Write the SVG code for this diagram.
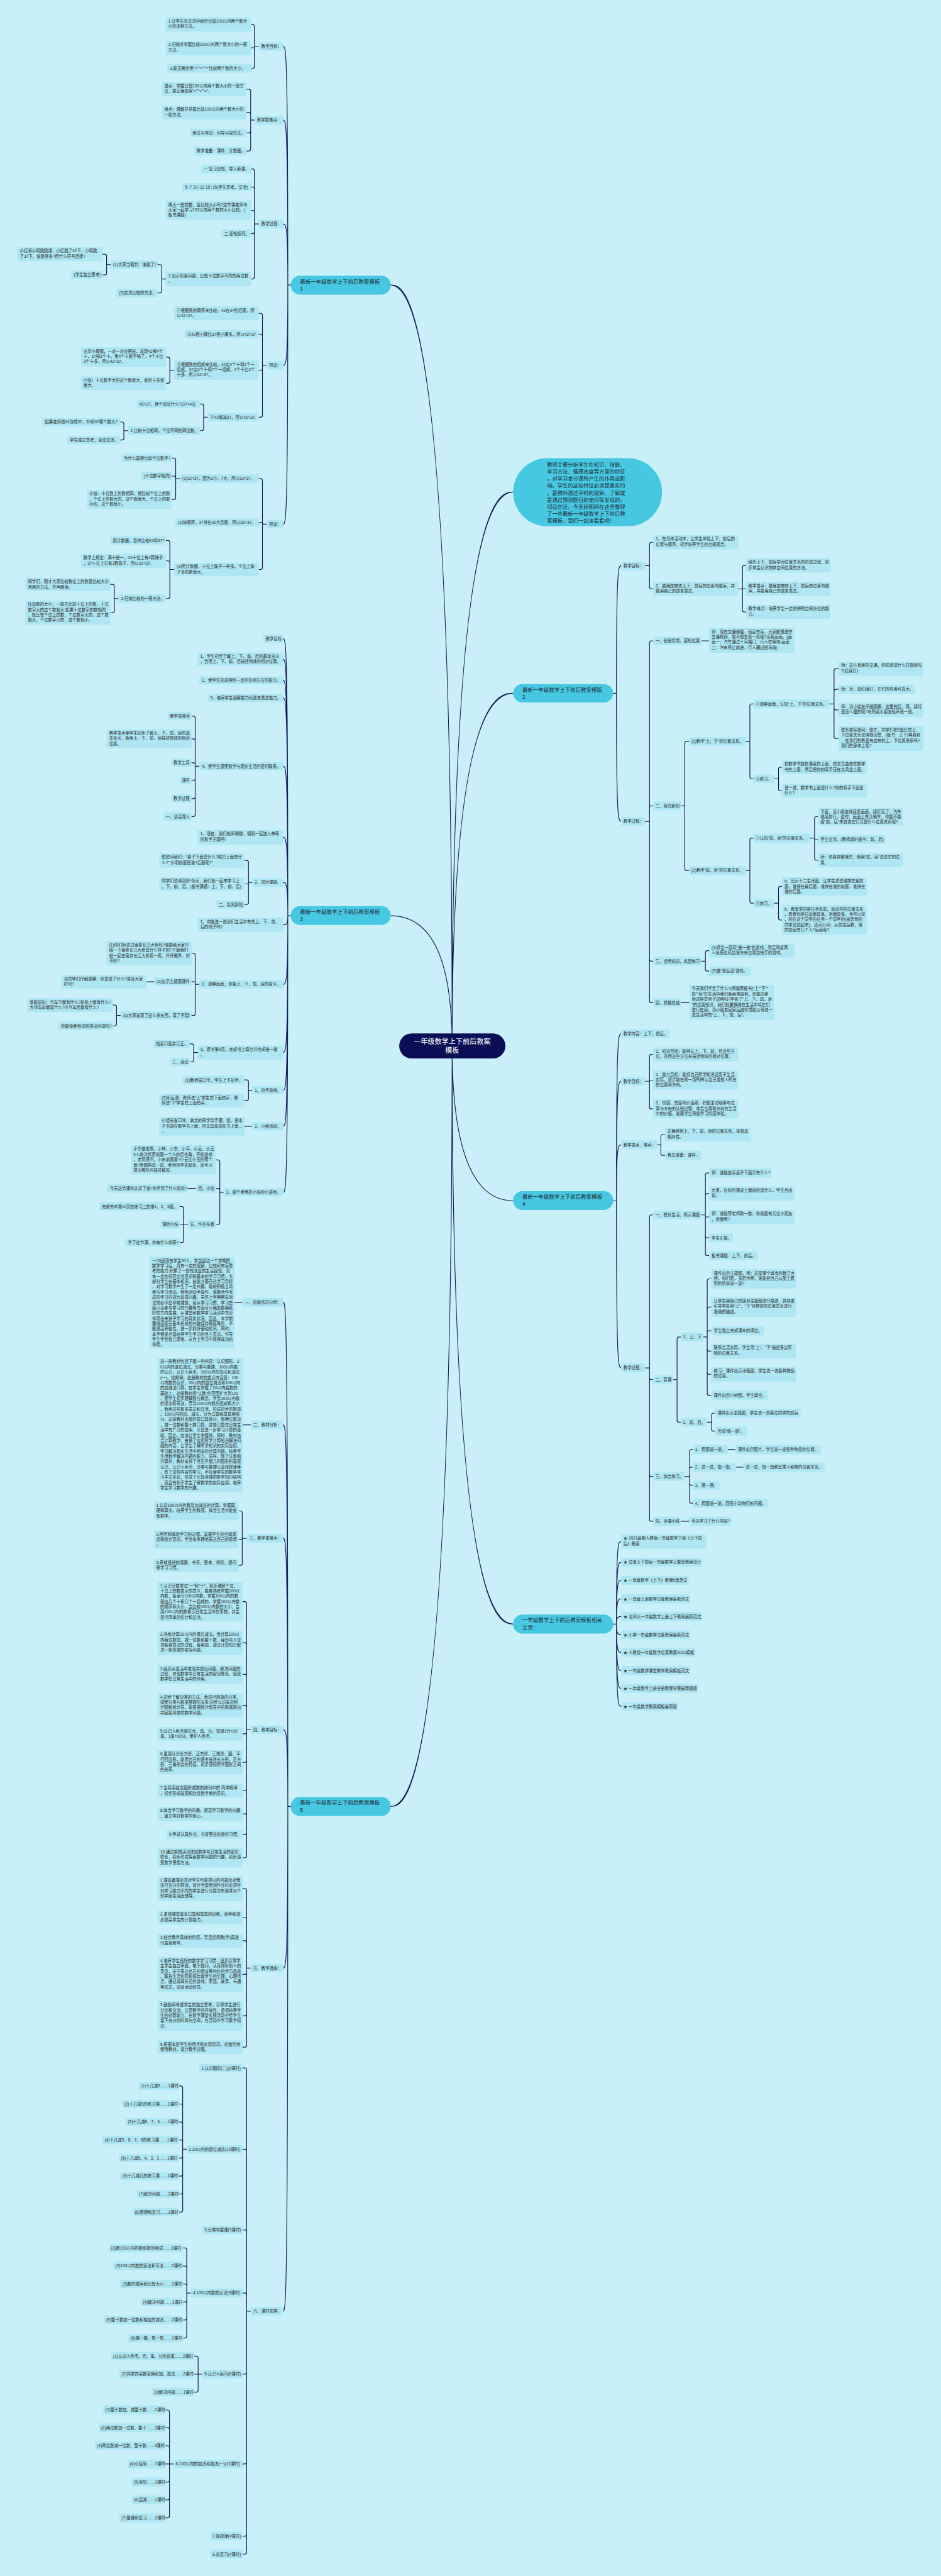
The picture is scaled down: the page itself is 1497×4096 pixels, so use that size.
<svg xmlns="http://www.w3.org/2000/svg" width="1497" height="4096" viewBox="0 0 1497 4096">
<style>
.bg{fill:#c9f0f8}
.n{fill:#aee6f3}
.t{font-family:"Liberation Sans","Noto Sans CJK SC",sans-serif;font-size:11px;fill:#2a2a2a}
.b{fill:#47c8e2}
.bt{font-family:"Liberation Sans","Noto Sans CJK SC",sans-serif;font-size:14.5px;fill:#1d2833}
.it{font-family:"Liberation Sans","Noto Sans CJK SC",sans-serif;font-size:14.2px;fill:#1d2833}
.cn{fill:#0a0e55}
.ct{font-family:"Liberation Sans","Noto Sans CJK SC",sans-serif;font-size:19px;fill:#ffffff;text-anchor:middle}
.ln{fill:none;stroke:#131a55;stroke-width:2;stroke-linecap:round}
</style>
<rect class="bg" x="0" y="0" width="1497" height="4096"/>
<g transform="scale(0.58477)">
<g id="connectors">
<path class="ln" d="M1230 2844C1230 775 1100 775 1063 775M1230 2844C1230 2490 1100 2490 1063 2490M1230 2844C1230 4912 1100 4912 1063 4912M1230 2844C1230 1338 1359 1338 1396 1338M1230 2844C1230 1885 1359 1885 1396 1885M1230 2844C1230 3265 1359 3265 1396 3265M1230 2844C1230 4416 1359 4416 1396 4416"/>
<path class="ln" d="M791 775H783C783 126.5 778 126.5 770 126.5M783 775C783 326.5 778 326.5 770 326.5M783 775C783 609 778 609 770 609M783 775C783 993.5 778 993.5 770 993.5M783 775C783 1425 778 1425 770 1425"/>
<path class="ln" d="M791 2490H783C783 1736.5 778 1736.5 770 1736.5M783 2490C783 1792.5 778 1792.5 770 1792.5M783 2490C783 1850 778 1850 770 1850M783 2490C783 1898 778 1898 770 1898M783 2490C783 2083.5 778 2083.5 770 2083.5M783 2490C783 2276.5 778 2276.5 770 2276.5M783 2490C783 2399.5 778 2399.5 770 2399.5M783 2490C783 2515 778 2515 770 2515M783 2490C783 2676.5 778 2676.5 770 2676.5M783 2490C783 2862 778 2862 770 2862M783 2490C783 2964.5 778 2964.5 770 2964.5M783 2490C783 3062.5 778 3062.5 770 3062.5M783 2490C783 3242 778 3242 770 3242"/>
<path class="ln" d="M791 4912H783C783 3541 778 3541 770 3541M783 4912C783 3874.5 778 3874.5 770 3874.5M783 4912C783 4183 778 4183 770 4183M783 4912C783 4703.5 778 4703.5 770 4703.5M783 4912C783 5351.5 778 5351.5 770 5351.5M783 4912C783 6284.5 778 6284.5 770 6284.5"/>
<path class="ln" d="M1668 1885H1677C1677 1538 1682 1538 1690 1538M1677 1885C1677 2233.5 1682 2233.5 1690 2233.5"/>
<path class="ln" d="M1668 3265H1677C1677 2811 1682 2811 1690 2811M1677 3265C1677 2940 1682 2940 1690 2940M1677 3265C1677 3113 1682 3113 1690 3113M1677 3265C1677 3719.5 1682 3719.5 1690 3719.5"/>
<path class="ln" d="M1668 4416H1677C1677 4191.5 1682 4191.5 1690 4191.5M1677 4416C1677 4248 1682 4248 1690 4248M1677 4416C1677 4297.5 1682 4297.5 1690 4297.5M1677 4416C1677 4347.5 1682 4347.5 1690 4347.5M1677 4416C1677 4395.5 1682 4395.5 1690 4395.5M1677 4416C1677 4445 1682 4445 1690 4445M1677 4416C1677 4493 1682 4493 1690 4493M1677 4416C1677 4542.5 1682 4542.5 1690 4542.5M1677 4416C1677 4591 1682 4591 1690 4591M1677 4416C1677 4640 1682 4640 1690 4640"/>
<path class="ln" d="M704 126.5H692M692 126.5V71.5Q692 66.5 687 66.5H683M692 130H683M692 126.5V181Q692 186 687 186H683"/>
<path class="ln" d="M692 326.5H682M682 326.5V247.5Q682 242.5 677 242.5H671M682 326.5V311Q682 306 677 306H671M682 326.5V356.5Q682 361.5 677 361.5H671M682 326.5V405.5Q682 410.5 677 410.5H671"/>
<path class="ln" d="M704 609H692M692 609V464.5Q692 459.5 687 459.5H683M692 609V513.5Q692 508.5 687 508.5H683M692 609V577Q692 572 687 572H683M692 609V630.5Q692 635.5 687 635.5H683M692 609V753.5Q692 758.5 687 758.5H683"/>
<path class="ln" d="M451 758.5H440M440 758.5V724.5Q440 719.5 435 719.5H429M440 758.5V791.5Q440 796.5 435 796.5H429"/>
<path class="ln" d="M301 719.5H290M290 719.5V696Q290 691 285 691H279M290 719.5V742.5Q290 747.5 285 747.5H279"/>
<path class="ln" d="M725 993.5H714M714 993.5V857Q714 852 709 852H704M714 993.5V913.5Q714 908.5 709 908.5H704M714 993.5V1001.5Q714 1006.5 709 1006.5H704M714 993.5V1129.5Q714 1134.5 709 1134.5H704"/>
<path class="ln" d="M474 1006.5H462M462 1006.5V976Q462 971 457 971H452M462 1006.5V1037Q462 1042 457 1042H452"/>
<path class="ln" d="M565 1134.5H554M554 1134.5V1103.5Q554 1098.5 549 1098.5H544M554 1134.5V1166Q554 1171 549 1171H544"/>
<path class="ln" d="M348 1171H337M337 1171V1152.5Q337 1147.5 332 1147.5H327M337 1171V1191.5Q337 1196.5 332 1196.5H327"/>
<path class="ln" d="M725 1425H714M714 1425V1306.5Q714 1301.5 709 1301.5H704M714 1421H704M714 1425V1543.5Q714 1548.5 709 1548.5H704"/>
<path class="ln" d="M489 1301.5H478M478 1301.5V1250.5Q478 1245.5 473 1245.5H467M478 1301.5V1299.5Q478 1294.5 473 1294.5H467M478 1301.5V1353Q478 1358 473 1358H467"/>
<path class="ln" d="M474 1548.5H462M462 1548.5V1474.5Q462 1469.5 457 1469.5H452M462 1548.5V1530Q462 1525 457 1525H452M462 1548.5V1622.5Q462 1627.5 457 1627.5H452"/>
<path class="ln" d="M322 1627.5H311M311 1627.5V1594Q311 1589 306 1589H300M311 1627.5V1661Q311 1666 306 1666H300"/>
<path class="ln" d="M542 2083.5H531M531 2083.5V1952Q531 1947 526 1947H521M531 2083.5V2014Q531 2009 526 2009H521M531 2083.5V2079Q531 2074 526 2074H521M531 2083.5V2117Q531 2122 526 2122H521M531 2083.5V2166.5Q531 2171.5 526 2171.5H521M531 2083.5V2215.5Q531 2220.5 526 2220.5H521"/>
<path class="ln" d="M686 2399.5H676M676 2399.5V2344.5Q676 2339.5 671 2339.5H665M676 2403.5H665M676 2399.5V2454.5Q676 2459.5 671 2459.5H665"/>
<path class="ln" d="M542 2676.5H531M531 2676.5V2597Q531 2592 526 2592H521M531 2669.5H521M531 2676.5V2756Q531 2761 526 2761H521M420 2669.5H399"/>
<path class="ln" d="M328 2761H317M317 2761V2738Q317 2733 312 2733H307M317 2761V2784.5Q317 2789.5 312 2789.5H307"/>
<path class="ln" d="M538 2862H527M527 2862V2843.5Q527 2838.5 522 2838.5H516M527 2862V2882.5Q527 2887.5 522 2887.5H516"/>
<path class="ln" d="M686 2964.5H676M676 2964.5V2941.5Q676 2936.5 671 2936.5H665M676 2964.5V2987.5Q676 2992.5 671 2992.5H665M686 3062.5H665"/>
<path class="ln" d="M608 3242H598M598 3242V3159Q598 3154 593 3154H588M598 3242V3236.5Q598 3231.5 593 3231.5H588M598 3242V3324.5Q598 3329.5 593 3329.5H588M533 3231.5H511"/>
<path class="ln" d="M511 3329.5H499M499 3329.5V3285.5Q499 3280.5 494 3280.5H489M499 3329.5H489M499 3329.5V3374Q499 3379 494 3379H489"/>
<path class="ln" d="M659 3541H638M682 3874.5H661"/>
<path class="ln" d="M671 4183H659M659 4183V4113.5Q659 4108.5 654 4108.5H649M659 4186H649M659 4183V4251.5Q659 4256.5 654 4256.5H649"/>
<path class="ln" d="M682 4703.5H671M671 4703.5V4360Q671 4355 666 4355H660M671 4703.5V4472Q671 4467 666 4467H660M671 4703.5V4557.5Q671 4552.5 666 4552.5H660M671 4703.5V4642Q671 4637 666 4637H660M671 4703.5V4709.5Q671 4714.5 666 4714.5H660M671 4703.5V4787Q671 4792 666 4792H660M671 4703.5V4864.5Q671 4869.5 666 4869.5H660M671 4703.5V4927.5Q671 4932.5 666 4932.5H660M671 4703.5V4983Q671 4988 666 4988H660M671 4703.5V5046.5Q671 5051.5 666 5051.5H660"/>
<path class="ln" d="M682 5351.5H671M671 5351.5V5140.5Q671 5135.5 666 5135.5H660M671 5351.5V5219Q671 5214 666 5214H660M671 5351.5V5282Q671 5277 666 5277H660M671 5351.5V5363.5Q671 5368.5 666 5368.5H660M671 5351.5V5476.5Q671 5481.5 666 5481.5H660M671 5351.5V5561.5Q671 5566.5 666 5566.5H660"/>
<path class="ln" d="M682 6284.5H671M671 6284.5V5628Q671 5623 666 5623H660M671 6284.5V5849Q671 5844 666 5844H660M671 6284.5V6068.5Q671 6063.5 666 6063.5H660M671 6284.5V6240Q671 6235 666 6235H660M671 6284.5V6450.5Q671 6455.5 666 6455.5H660M671 6284.5V6695Q671 6700 666 6700H660M671 6284.5V6891Q671 6896 666 6896H660M671 6284.5V6940Q671 6945 666 6945H660"/>
<path class="ln" d="M508 5844H497M497 5844V5677Q497 5672 492 5672H487M497 5844V5726Q497 5721 492 5721H487M497 5844V5775Q497 5770 492 5770H487M497 5844V5824Q497 5819 492 5819H487M497 5844V5863Q497 5868 492 5868H487M497 5844V5912Q497 5917 492 5917H487M497 5844V5961Q497 5966 492 5966H487M497 5844V6010Q497 6015 492 6015H487"/>
<path class="ln" d="M519 6235H508M508 6235V6117.5Q508 6112.5 503 6112.5H497M508 6235V6166.5Q508 6161.5 503 6161.5H497M508 6235V6215.5Q508 6210.5 503 6210.5H497M508 6235V6254.5Q508 6259.5 503 6259.5H497M508 6235V6303.5Q508 6308.5 503 6308.5H497M508 6235V6352.5Q508 6357.5 503 6357.5H497"/>
<path class="ln" d="M550 6455.5H539M539 6455.5V6411.5Q539 6406.5 534 6406.5H528M539 6455.5H528M539 6455.5V6499.5Q539 6504.5 534 6504.5H528"/>
<path class="ln" d="M472 6700H461M461 6700V6558Q461 6553 456 6553H450M461 6700V6606.5Q461 6601.5 456 6601.5H450M461 6700V6655.5Q461 6650.5 456 6650.5H450M461 6700H450M461 6700V6744Q461 6749 456 6749H450M461 6700V6792.5Q461 6797.5 456 6797.5H450M461 6700V6841.5Q461 6846.5 456 6846.5H450"/>
<path class="ln" d="M1755 1538H1767M1767 1538V1479.5Q1767 1474.5 1772 1474.5H1777M1767 1538V1596Q1767 1601 1772 1601H1777"/>
<path class="ln" d="M2008 1601H2029M2020 1601V1542.5Q2020 1537.5 2025 1537.5H2029M2020 1601V1659Q2020 1664 2025 1664H2029"/>
<path class="ln" d="M1755 2233.5H1767M1767 2233.5V1747.5Q1767 1742.5 1772 1742.5H1777M1767 2233.5V2196Q1767 2191 1772 2191H1777M1767 2233.5V2608.5Q1767 2613.5 1772 2613.5H1777M1767 2233.5V2721.5Q1767 2726.5 1772 2726.5H1777M1908 1742.5H1929"/>
<path class="ln" d="M1852 2191H1863M1863 2191V2021Q1863 2016 1868 2016H1875M1863 2191V2362Q1863 2367 1868 2367H1875"/>
<path class="ln" d="M2029 2016H2040M2040 2016V1919Q2040 1914 2045 1914H2050M2040 2016V2112.5Q2040 2117.5 2045 2117.5H2050"/>
<path class="ln" d="M2255 1914H2269M2269 1914V1823.5Q2269 1818.5 2274 1818.5H2281M2269 1914V1879.5Q2269 1874.5 2274 1874.5H2281M2269 1914V1925.5Q2269 1930.5 2274 1930.5H2281M2269 1914V2003Q2269 2008 2274 2008H2281"/>
<path class="ln" d="M2106 2117.5H2118M2118 2117.5V2091Q2118 2086 2123 2086H2127M2118 2117.5V2145Q2118 2150 2123 2150H2127"/>
<path class="ln" d="M2029 2367H2040M2040 2367V2284Q2040 2279 2045 2279H2050M2040 2367V2451Q2040 2456 2045 2456H2050"/>
<path class="ln" d="M2203 2279H2216M2216 2279V2225.5Q2216 2220.5 2221 2220.5H2225M2216 2283H2225M2216 2279V2334Q2216 2339 2221 2339H2225"/>
<path class="ln" d="M2106 2456H2118M2118 2456V2415Q2118 2410 2123 2410H2127M2118 2456V2496.5Q2118 2501.5 2123 2501.5H2127"/>
<path class="ln" d="M1908 2613.5H1919M1919 2613.5V2590Q1919 2585 1924 2585H1929M1919 2613.5V2635.5Q1919 2640.5 1924 2640.5H1929M1852 2726.5H1875"/>
<path class="ln" d="M1755 2940H1767M1767 2940V2872Q1767 2867 1772 2867H1777M1767 2937H1777M1767 2940V3010Q1767 3015 1772 3015H1777"/>
<path class="ln" d="M1789 3113H1798M1798 3113V3090Q1798 3085 1803 3085H1809M1798 3113V3136.5Q1798 3141.5 1803 3141.5H1809"/>
<path class="ln" d="M1755 3719.5H1767M1767 3719.5V3308.5Q1767 3303.5 1772 3303.5H1777M1767 3719.5V3746.5Q1767 3751.5 1772 3751.5H1777M1767 3719.5V4010Q1767 4015 1772 4015H1777M1767 3719.5V4131.5Q1767 4136.5 1772 4136.5H1777"/>
<path class="ln" d="M1908 3303.5H1919M1919 3303.5V3194.5Q1919 3189.5 1924 3189.5H1929M1919 3303.5V3250.5Q1919 3245.5 1924 3245.5H1929M1919 3309H1929M1919 3303.5V3361Q1919 3366 1924 3366H1929M1919 3303.5V3409Q1919 3414 1924 3414H1929"/>
<path class="ln" d="M1831 3751.5H1842M1842 3751.5V3640.5Q1842 3635.5 1847 3635.5H1852M1842 3751.5V3862Q1842 3867 1847 3867H1852"/>
<path class="ln" d="M1913 3635.5H1924M1924 3635.5V3482.5Q1924 3477.5 1929 3477.5H1935M1924 3635.5V3559Q1924 3554 1929 3554H1935M1924 3635.5V3623.5Q1924 3618.5 1929 3618.5H1935M1924 3635.5V3669Q1924 3674 1929 3674H1935M1924 3635.5V3732Q1924 3737 1929 3737H1935M1924 3635.5V3789Q1924 3794 1929 3794H1935"/>
<path class="ln" d="M1924 3867H1936M1936 3867V3847.5Q1936 3842.5 1941 3842.5H1945M1936 3867V3886.5Q1936 3891.5 1941 3891.5H1945"/>
<path class="ln" d="M1863 4015H1876M1876 4015V3946.5Q1876 3941.5 1881 3941.5H1885M1876 4015V3994.5Q1876 3989.5 1881 3989.5H1885M1876 4015V4033.5Q1876 4038.5 1881 4038.5H1885M1876 4015V4082.5Q1876 4087.5 1881 4087.5H1885M1980 3941.5H2000M2003 3989.5H2022M1852 4136.5H1875"/>
</g>

<g id="center"><rect class="cn" x="1086" y="2810" width="289" height="68" rx="34"/><text class="ct" x="1230" y="2839">一年级数学上下前后教案<tspan x="1230" dy="24">模板</tspan></text></g>

<g id="intro"><rect class="b" x="1396" y="1246" width="405" height="185" rx="92"/><text class="it" x="1488" y="1269">教师主要分析学生在知识、技能、<tspan x="1488" dy="19">学习方法、情感态度等方面的特征</tspan><tspan x="1488" dy="19">，对学习本节课所产生的作用或影</tspan><tspan x="1488" dy="19">响。学生的这些特征必须是真实的</tspan><tspan x="1488" dy="19">，是教师通过平时的观察、了解或</tspan><tspan x="1488" dy="19">是通过预测题目的使用等发现的，</tspan><tspan x="1488" dy="19">切忌空泛。今天树图网在这里整理</tspan><tspan x="1488" dy="19">了一些最新一年级数学上下前后教</tspan><tspan x="1488" dy="19">案模板，我们一起来看看吧!</tspan></text></g>

<g id="t1"><rect class="b" x="791" y="750" width="272" height="51" rx="25"/><text class="bt" x="816" y="771">最新一年级数学上下前后教案模板<tspan x="816" dy="19">1</tspan></text></g>
<g id="t3"><rect class="b" x="791" y="2464" width="272" height="51" rx="25"/><text class="bt" x="816" y="2485">最新一年级数学上下前后教案模板<tspan x="816" dy="19">3</tspan></text></g>
<g id="t5"><rect class="b" x="791" y="4886" width="272" height="52" rx="25"/><text class="bt" x="816" y="4907">最新一年级数学上下前后教案模板<tspan x="816" dy="19">5</tspan></text></g>
<g id="t2"><rect class="b" x="1396" y="1860" width="272" height="50" rx="25"/><text class="bt" x="1421" y="1881">最新一年级数学上下前后教案模版<tspan x="1421" dy="19">2</tspan></text></g>
<g id="t4"><rect class="b" x="1396" y="3239" width="272" height="51" rx="25"/><text class="bt" x="1421" y="3260">最新一年级数学上下前后教案模板<tspan x="1421" dy="19">4</tspan></text></g>
<g id="t6"><rect class="b" x="1396" y="4390" width="272" height="52" rx="25"/><text class="bt" x="1421" y="4411">一年级数学上下前后教案模板相关<tspan x="1421" dy="19">文章：</tspan></text></g>

<g id="a1"><rect class="n" x="704" y="115" width="66" height="23" rx="4"/><text class="t" x="711" y="130.5">教学目标：</text></g>
<g id="a1_1"><rect class="n" x="451" y="47" width="232" height="39" rx="4"/><text class="t" x="458" y="61.5">1.让学生在交流中经历比较100以内两个数大<tspan x="458" dy="14.3">小的多种方法。</tspan></text></g>
<g id="a1_2"><rect class="n" x="451" y="111" width="232" height="39" rx="4"/><text class="t" x="458" y="125.5">2.归纳并掌握比较100以内两个数大小的一般<tspan x="458" dy="14.3">方法。</tspan></text></g>
<g id="a1_3"><rect class="n" x="455" y="174" width="228" height="24" rx="4"/><text class="t" x="462" y="190">3.能正确运用"&gt;""&lt;""="比较两个数的大小。</text></g>
<g id="a2"><rect class="n" x="692" y="315" width="78" height="23" rx="4"/><text class="t" x="699" y="330.5">教学重难点：</text></g>
<g id="a2_1"><rect class="n" x="440" y="223" width="231" height="39" rx="4"/><text class="t" x="447" y="237.5">重点：掌握比较100以内两个数大小的一般方<tspan x="447" dy="14.3">法，能正确应用"&gt;""&lt;""="。</tspan></text></g>
<g id="a2_2"><rect class="n" x="440" y="287" width="231" height="38" rx="4"/><text class="t" x="447" y="301.5">难点：理解并掌握比较100以内两个数大小的<tspan x="447" dy="14.3">一般方法。</tspan></text></g>
<g id="a2_3"><rect class="n" x="517" y="350" width="154" height="23" rx="4"/><text class="t" x="524" y="365.5">教法与学法：引导与探究法。</text></g>
<g id="a2_4"><rect class="n" x="528" y="399" width="143" height="23" rx="4"/><text class="t" x="535" y="414.5">教学准备：课件，计数器。</text></g>
<g id="a3"><rect class="n" x="704" y="597" width="66" height="24" rx="4"/><text class="t" x="711" y="613">教学过程：</text></g>
<g id="a3_1"><rect class="n" x="547" y="448" width="136" height="23" rx="4"/><text class="t" x="554" y="463.5">一.复习旧知，导入新课。</text></g>
<g id="a3_2"><rect class="n" x="496" y="497" width="187" height="23" rx="4"/><text class="t" x="503" y="512.5">5○7 20○12 15○15(学生思考，交流)</text></g>
<g id="a3_3"><rect class="n" x="451" y="546" width="232" height="52" rx="4"/><text class="t" x="458" y="560.5">再大一些的数，会比较大小吗?这节课老师与<tspan x="458" dy="14.3">大家一起学习100以内两个数的大小比较。(</tspan><tspan x="458" dy="14.3">板书课题)</tspan></text></g>
<g id="a3_4"><rect class="n" x="603" y="624" width="80" height="23" rx="4"/><text class="t" x="610" y="639.5">二.新知探究。</text></g>
<g id="a3_5"><rect class="n" x="451" y="739" width="232" height="39" rx="4"/><text class="t" x="458" y="753.5">1.出示情景问题，比较十位数字不同的两位数<tspan x="458" dy="14.3">。</tspan></text></g>
<g id="a3_5_1"><rect class="n" x="301" y="708" width="128" height="23" rx="4"/><text class="t" x="308" y="723.5">(1)大家当裁判：谁赢了?</text></g>
<g id="a3_5_2"><rect class="n" x="317" y="785" width="112" height="23" rx="4"/><text class="t" x="324" y="800.5">(2)交流比较的方法。</text></g>
<g id="a3_5_1_1"><rect class="n" x="47" y="672" width="232" height="38" rx="4"/><text class="t" x="54" y="686.5">小红和小明跳跳绳，小红跳了42下，小明跳<tspan x="54" dy="14.3">了37下。谁跳得多?用什么符号连接?</tspan></text></g>
<g id="a3_5_1_2"><rect class="n" x="194" y="736" width="85" height="23" rx="4"/><text class="t" x="201" y="751.5">(学生独立思考)</text></g>
<g id="a4"><rect class="n" x="725" y="982" width="45" height="23" rx="4"/><text class="t" x="732" y="997.5">预设：</text></g>
<g id="a4_1"><rect class="n" x="474" y="833" width="230" height="38" rx="4"/><text class="t" x="481" y="847.5">①根据数的顺序来比较。42在37的后面，所<tspan x="481" dy="14.3">以42&gt;37。</tspan></text></g>
<g id="a4_2"><rect class="n" x="502" y="897" width="202" height="23" rx="4"/><text class="t" x="509" y="912.5">②42根小棒比37根小棒多，所以42&gt;37</text></g>
<g id="a4_3"><rect class="n" x="474" y="980" width="230" height="53" rx="4"/><text class="t" x="481" y="994.5">③根据数的组成来比较。42由4个十和2个一<tspan x="481" dy="14.3">组成，37由3个十和7个一组成。4个十比3个</tspan><tspan x="481" dy="14.3">十多，所以42&gt;37。</tspan></text></g>
<g id="a4_3_1"><rect class="n" x="220" y="944" width="232" height="54" rx="4"/><text class="t" x="227" y="958.5">出示小棒图，一对一对应摆放，发现42够4个<tspan x="227" dy="14.3">十，37够3个十，第4个十就不够了，4个十比</tspan><tspan x="227" dy="14.3">3个十多，所以42&gt;37。</tspan></text></g>
<g id="a4_3_2"><rect class="n" x="220" y="1023" width="232" height="38" rx="4"/><text class="t" x="227" y="1037.5">小结：十位数字大的这个数就大，谁的十多谁<tspan x="227" dy="14.3">就大。</tspan></text></g>
<g id="a4_4"><rect class="n" x="565" y="1123" width="139" height="23" rx="4"/><text class="t" x="572" y="1138.5">④42够减37，所以42&gt;37.</text></g>
<g id="a4_4_1"><rect class="n" x="372" y="1087" width="172" height="23" rx="4"/><text class="t" x="379" y="1102.5">42&gt;37，换个说法什么?(37&lt;42).</text></g>
<g id="a4_4_2"><rect class="n" x="348" y="1159" width="196" height="24" rx="4"/><text class="t" x="355" y="1175">2.比较十位相同，个位不同的两位数。</text></g>
<g id="a4_4_2_1"><rect class="n" x="115" y="1136" width="212" height="23" rx="4"/><text class="t" x="122" y="1151.5">如果老师把42改成32，32和37哪个数大?</text></g>
<g id="a4_4_2_2"><rect class="n" x="183" y="1185" width="144" height="23" rx="4"/><text class="t" x="190" y="1200.5">学生独立思考，全班交流。</text></g>
<g id="a5"><rect class="n" x="725" y="1414" width="45" height="22" rx="4"/><text class="t" x="732" y="1429">预设：</text></g>
<g id="a5_1"><rect class="n" x="489" y="1290" width="215" height="23" rx="4"/><text class="t" x="496" y="1305.5">(1)32&lt;37，因为2小，7大。所以32&lt;37。</text></g>
<g id="a5_1_1"><rect class="n" x="330" y="1234" width="137" height="23" rx="4"/><text class="t" x="337" y="1249.5">为什么直接比较个位数字?</text></g>
<g id="a5_1_2"><rect class="n" x="384" y="1283" width="83" height="23" rx="4"/><text class="t" x="391" y="1298.5">(十位数字相同)</text></g>
<g id="a5_1_3"><rect class="n" x="236" y="1332" width="231" height="52" rx="4"/><text class="t" x="243" y="1346.5">小结：十位数上的数相同，就比较个位上的数<tspan x="243" dy="14.3">，个位上的数大的，这个数就大，个位上的数</tspan><tspan x="243" dy="14.3">小的，这个数就小。</tspan></text></g>
<g id="a5_2"><rect class="n" x="477" y="1410" width="227" height="22" rx="4"/><text class="t" x="484" y="1425">(2)按顺序，37排在32大后面，所以32&lt;37。</text></g>
<g id="a5_3"><rect class="n" x="474" y="1530" width="230" height="37" rx="4"/><text class="t" x="481" y="1544.5">(3)用计数器，十位上珠子一样多，个位上珠<tspan x="481" dy="14.3">子多的数就大。</tspan></text></g>
<g id="a5_3_1"><rect class="n" x="300" y="1458" width="152" height="23" rx="4"/><text class="t" x="307" y="1473.5">用计数器，怎样比较42和37?</text></g>
<g id="a5_3_2"><rect class="n" x="220" y="1506" width="232" height="38" rx="4"/><text class="t" x="227" y="1520.5">数学上规定：满十进一，42十位上有4颗珠子<tspan x="227" dy="14.3">，37十位上只有3颗珠子，所以32&lt;37。</tspan></text></g>
<g id="a5_3_3"><rect class="n" x="322" y="1616" width="130" height="23" rx="4"/><text class="t" x="329" y="1631.5">3.归纳比较的一般方法。</text></g>
<g id="a5_3_3_1"><rect class="n" x="69" y="1571" width="231" height="36" rx="4"/><text class="t" x="76" y="1585.5">同学们，刚才大家比较数位上的数是比较大小<tspan x="76" dy="14.3">常用的方法。齐声朗读。</tspan></text></g>
<g id="a5_3_3_2"><rect class="n" x="69" y="1633" width="231" height="66" rx="4"/><text class="t" x="76" y="1647.5">比较数的大小，一般先比较十位上的数，十位<tspan x="76" dy="14.3">数字大的这个数就大;如果十位数字的数相同</tspan><tspan x="76" dy="14.3">，就比较个位上的数，个位数字大的，这个数</tspan><tspan x="76" dy="14.3">就大，个位数字小的，这个数就小。</tspan></text></g>

<g id="b1"><rect class="n" x="716" y="1725" width="54" height="23" rx="4"/><text class="t" x="723" y="1740.5">教学目标</text></g>
<g id="b2"><rect class="n" x="538" y="1774" width="232" height="37" rx="4"/><text class="t" x="545" y="1788.5">1、学生初步了解上、下、前、后的基本含义<tspan x="545" dy="14.3">，会用上、下、前、后描述物体的相对位置。</tspan></text></g>
<g id="b3"><rect class="n" x="542" y="1839" width="228" height="22" rx="4"/><text class="t" x="549" y="1854">2、使学生形成辨别一定的空间方位的能力。</text></g>
<g id="b4"><rect class="n" x="565" y="1887" width="205" height="22" rx="4"/><text class="t" x="572" y="1902">3、培养学生观察能力和语言表达能力。</text></g>
<g id="b5"><rect class="n" x="542" y="2072" width="228" height="23" rx="4"/><text class="t" x="549" y="2087.5">4、使学生感受数学与现实生活的密切联系。</text></g>
<g id="b5_1"><rect class="n" x="456" y="1936" width="65" height="22" rx="4"/><text class="t" x="462" y="1951">教学重难点</text></g>
<g id="b5_2"><rect class="n" x="290" y="1983" width="231" height="52" rx="4"/><text class="t" x="297" y="1997.5">教学重点使学生初步了解上、下、前、后的基<tspan x="297" dy="14.3">本含义，会用上、下、前、后描述物体的相对</tspan><tspan x="297" dy="14.3">位置。</tspan></text></g>
<g id="b5_3"><rect class="n" x="466" y="2063" width="55" height="22" rx="4"/><text class="t" x="472" y="2078">教学工具</text></g>
<g id="b5_4"><rect class="n" x="489" y="2111" width="32" height="22" rx="4"/><text class="t" x="495" y="2126">课件</text></g>
<g id="b5_5"><rect class="n" x="466" y="2160" width="55" height="23" rx="4"/><text class="t" x="472" y="2175.5">教学过程</text></g>
<g id="b5_6"><rect class="n" x="445" y="2209" width="76" height="23" rx="4"/><text class="t" x="451" y="2224.5">一、谈话导入</text></g>
<g id="b6"><rect class="n" x="538" y="2257" width="232" height="39" rx="4"/><text class="t" x="545" y="2271.5">1、现在，我们就和聪聪、明明一起进入神奇<tspan x="545" dy="14.3">的数学王国吧!</tspan></text></g>
<g id="b7"><rect class="n" x="686" y="2388" width="84" height="23" rx="4"/><text class="t" x="693" y="2403.5">2、揭示课题。</text></g>
<g id="b7_1"><rect class="n" x="433" y="2320" width="232" height="39" rx="4"/><text class="t" x="440" y="2334.5">聪聪问我们：“鼻子下面是什么?嘴巴上面有什<tspan x="440" dy="14.3">么?”“小明前面是谁?后面呢?”</tspan></text></g>
<g id="b7_2"><rect class="n" x="433" y="2385" width="232" height="37" rx="4"/><text class="t" x="440" y="2399.5">同学们说得真好!今天，我们就一起来学习上<tspan x="440" dy="14.3">、下、前、后。(板书课题：上、下、前、后)</tspan></text></g>
<g id="b7_3"><rect class="n" x="589" y="2448" width="76" height="23" rx="4"/><text class="t" x="595" y="2463.5">二、探究新知</text></g>
<g id="b8"><rect class="n" x="538" y="2496" width="232" height="38" rx="4"/><text class="t" x="545" y="2510.5">1、你能说一说我们生活中有关上、下、前、<tspan x="545" dy="14.3">后的例子吗?</tspan></text></g>
<g id="b9"><rect class="n" x="542" y="2665" width="228" height="23" rx="4"/><text class="t" x="549" y="2680.5">2、观察画面，体会上、下、前、后的含义。</text></g>
<g id="b9_1"><rect class="n" x="290" y="2559" width="231" height="66" rx="4"/><text class="t" x="297" y="2573.5">(1)你们听说过南京长江大桥吗?谁能给大家介<tspan x="297" dy="14.3">绍一下南京长江大桥是什么样子的?下面我们</tspan><tspan x="297" dy="14.3">就一起去南京长江大桥看一看，开开眼界，好</tspan><tspan x="297" dy="14.3">不好?</tspan></text></g>
<g id="b9_2"><rect class="n" x="420" y="2658" width="101" height="23" rx="4"/><text class="t" x="426" y="2673.5">(2)出示主题图课件</text></g>
<g id="b9_2_1"><rect class="n" x="167" y="2651" width="232" height="37" rx="4"/><text class="t" x="174" y="2665.5">请同学们仔细观察：你发现了什么?告诉大家<tspan x="174" dy="14.3">好吗?</tspan></text></g>
<g id="b9_3"><rect class="n" x="328" y="2749" width="193" height="24" rx="4"/><text class="t" x="335" y="2765">(3)大家发现了这么多东西，真了不起!</text></g>
<g id="b9_3_1"><rect class="n" x="74" y="2714" width="233" height="38" rx="4"/><text class="t" x="81" y="2728.5">谁能说出：汽车下面有什么?轮船上面有什么?<tspan x="81" dy="14.3">大货车前面是什么?小汽车后面有什么?</tspan></text></g>
<g id="b9_3_2"><rect class="n" x="159" y="2778" width="148" height="23" rx="4"/><text class="t" x="166" y="2793.5">你能像老师这样提出问题吗?</text></g>
<g id="b10"><rect class="n" x="538" y="2843" width="232" height="38" rx="4"/><text class="t" x="545" y="2857.5">3、看书第9页，完成书上填空并完成做一做<tspan x="545" dy="14.3">。</tspan></text></g>
<g id="b10_1"><rect class="n" x="417" y="2827" width="99" height="23" rx="4"/><text class="t" x="424" y="2842.5">指名口答并订正。</text></g>
<g id="b10_2"><rect class="n" x="462" y="2876" width="54" height="23" rx="4"/><text class="t" x="468" y="2891.5">三、活动</text></g>
<g id="b11"><rect class="n" x="686" y="2953" width="84" height="23" rx="4"/><text class="t" x="693" y="2968.5">1、拍手游戏。</text></g>
<g id="b11_1"><rect class="n" x="497" y="2925" width="168" height="23" rx="4"/><text class="t" x="504" y="2940.5">(1)教师发口令，学生上下拍手。</text></g>
<g id="b11_2"><rect class="n" x="433" y="2974" width="232" height="37" rx="4"/><text class="t" x="440" y="2988.5">(2)听反语：教师说“上”学生在下面拍手，教<tspan x="440" dy="14.3">师说“下”学生在上面拍手。</tspan></text></g>
<g id="b12"><rect class="n" x="686" y="3051" width="84" height="23" rx="4"/><text class="t" x="693" y="3066.5">2、小组活动。</text></g>
<g id="b12_1"><rect class="n" x="433" y="3037" width="232" height="51" rx="4"/><text class="t" x="440" y="3051.5">小组长发口令，其余的同学动手摆。如，把本<tspan x="440" dy="14.3">子书放在数学书上面，把文具盒放在书上面…</tspan><tspan x="440" dy="14.3">…</tspan></text></g>
<g id="b13"><rect class="n" x="608" y="3231" width="162" height="22" rx="4"/><text class="t" x="615" y="3246">3、做个老鹰抓小鸡的小游戏。</text></g>
<g id="b13_1"><rect class="n" x="356" y="3114" width="232" height="80" rx="4"/><text class="t" x="363" y="3128.5">小华做老鹰，小林、小东、小平、小云、小玉<tspan x="363" dy="14.3">5人依次抓着前面一个人的后衣角，开始游戏</tspan><tspan x="363" dy="14.3">，老师提问，小东前面是?小云住小玉的哪个</tspan><tspan x="363" dy="14.3">面?看图再说一说，老师找学生起来，还可以</tspan><tspan x="363" dy="14.3">提出哪些问题并解答。</tspan></text></g>
<g id="b13_2"><rect class="n" x="533" y="3220" width="55" height="23" rx="4"/><text class="t" x="539" y="3235.5">四、小结</text></g>
<g id="b13_2_1"><rect class="n" x="292" y="3220" width="219" height="23" rx="4"/><text class="t" x="299" y="3235.5">今天这节课你认识了谁?你学到了什么知识?</text></g>
<g id="b13_3"><rect class="n" x="511" y="3318" width="77" height="23" rx="4"/><text class="t" x="517" y="3333.5">五、作业布置</text></g>
<g id="b13_3_1"><rect class="n" x="270" y="3269" width="219" height="23" rx="4"/><text class="t" x="277" y="3284.5">完成书本第11页的练习二的第1、2、3题。</text></g>
<g id="b13_3_2"><rect class="n" x="435" y="3318" width="54" height="23" rx="4"/><text class="t" x="441" y="3333.5">课后小结</text></g>
<g id="b13_3_3"><rect class="n" x="341" y="3368" width="148" height="22" rx="4"/><text class="t" x="348" y="3383">学了这节课，你有什么收获?</text></g>

<g id="c1"><rect class="n" x="659" y="3529" width="111" height="24" rx="4"/><text class="t" x="666" y="3545">一、班级情况分析：</text></g>
<g id="c1_1"><rect class="n" x="407" y="3417" width="231" height="250" rx="4"/><text class="t" x="414" y="3431.5">一(5)班现有学生50人，学生经过一个学期的<tspan x="414" dy="14.3">数学学习后，具有一定的观察、比较和有序思</tspan><tspan x="414" dy="14.3">考的能力;积累了一些较浅显的生活经验，具</tspan><tspan x="414" dy="14.3">有一定的探究交流意识和基本的学习习惯。大</tspan><tspan x="414" dy="14.3">部分学生在基本知识、技能方面已达学习目标</tspan><tspan x="414" dy="14.3">，对学习数学产生了一定兴趣，能较积极主动</tspan><tspan x="414" dy="14.3">参与学习活动。特别对动手操作、需要合作完</tspan><tspan x="414" dy="14.3">成的学习内容比较感兴趣。虽然上学期期末测</tspan><tspan x="414" dy="14.3">试成绩不是非常理想，但从学习习惯、学习态</tspan><tspan x="414" dy="14.3">度以及参与学习的兴趣等方面可以确定都朝着</tspan><tspan x="414" dy="14.3">好的方向发展，从课堂和数学学习活动中充分</tspan><tspan x="414" dy="14.3">体现出来孩子学习的真实状况。因此，本学期</tspan><tspan x="414" dy="14.3">要继续使已基本形成的兴趣保持再接再厉，不</tspan><tspan x="414" dy="14.3">断提高积极性，进一步抓好基础知识。同时，</tspan><tspan x="414" dy="14.3">本学期重点是培养学生学习的自主意识，引导</tspan><tspan x="414" dy="14.3">学生学会独立思维，从自主学习中获得成功的</tspan><tspan x="414" dy="14.3">体验。</tspan></text></g>
<g id="c2"><rect class="n" x="682" y="3862" width="88" height="25" rx="4"/><text class="t" x="689" y="3878.5">二、教材分析：</text></g>
<g id="c2_1"><rect class="n" x="429" y="3692" width="232" height="365" rx="4"/><text class="t" x="436" y="3706.5">这一册教材包括下面一些内容：认识图形、2<tspan x="436" dy="14.3">0以内的退位减法、分类与整理、100以内数</tspan><tspan x="436" dy="14.3">的认识、认识人民币、100以内的加法和减法</tspan><tspan x="436" dy="14.3">(一)、找规律。这册教材的重点内容是：100</tspan><tspan x="436" dy="14.3">以内数的认识，20以内的退位减法和100以内</tspan><tspan x="436" dy="14.3">的加减法口算。在学生掌握了20以内各数的</tspan><tspan x="436" dy="14.3">基础上，这册教材把“认数”的范围扩大到100</tspan><tspan x="436" dy="14.3">，使学生初步理解数位概念，学会100以内数</tspan><tspan x="436" dy="14.3">的读法和写法，弄清100以内数的组成和大小</tspan><tspan x="436" dy="14.3">，会用这些数来表达和交流，形成初步的数感</tspan><tspan x="436" dy="14.3">。100以内的加、减法，分为口算和笔算两部</tspan><tspan x="436" dy="14.3">分。这册教材出现的是口算部分，即两位数加</tspan><tspan x="436" dy="14.3">、减一位数和整十数口算。这些口算在日常生</tspan><tspan x="436" dy="14.3">活中有广泛的应用，又是进一步学习计算的基</tspan><tspan x="436" dy="14.3">础，因此，应该让学生掌握好。同时，教材结</tspan><tspan x="436" dy="14.3">合计算教学，安排了应用所学计算知识解决问</tspan><tspan x="436" dy="14.3">题的内容，让学生了解所学知识的实际应用，</tspan><tspan x="436" dy="14.3">学习解决现实生活中相关的计算问题，培养学</tspan><tspan x="436" dy="14.3">生用数学解决问题的能力。同样，除了认数和</tspan><tspan x="436" dy="14.3">计算外，教材安排了常见平面几何图形的直观</tspan><tspan x="436" dy="14.3">认识，认识人民币、分类与整理以及找规律等</tspan><tspan x="436" dy="14.3">。有了这些内容的学习，不仅使学生的数学学</tspan><tspan x="436" dy="14.3">习丰富多彩，形成了比较合理的数学知识结构</tspan><tspan x="436" dy="14.3">，而且有利于学生了解数学的实际应用，培养</tspan><tspan x="436" dy="14.3">学生学习数学的兴趣。</tspan></text></g>
<g id="c3"><rect class="n" x="671" y="4171" width="99" height="24" rx="4"/><text class="t" x="678" y="4187">三、教学重难点：</text></g>
<g id="c3_1"><rect class="n" x="418" y="4083" width="231" height="51" rx="4"/><text class="t" x="425" y="4097.5">1.认识100以内的数及加减法的计算，掌握算<tspan x="425" dy="14.3">理和算法，培养学生的数感，体会生活中处处</tspan><tspan x="425" dy="14.3">有数学。</tspan></text></g>
<g id="c3_2"><rect class="n" x="418" y="4161" width="231" height="50" rx="4"/><text class="t" x="425" y="4175.5">2.经历和体验学习的过程，发展学生的空间观<tspan x="425" dy="14.3">念和统计意识，学会有条理地表达自己的思想</tspan><tspan x="425" dy="14.3">。</tspan></text></g>
<g id="c3_3"><rect class="n" x="418" y="4238" width="231" height="37" rx="4"/><text class="t" x="425" y="4252.5">3.养成良好的观察、书写、思考、倾听、提问<tspan x="425" dy="14.3">等学习习惯。</tspan></text></g>
<g id="c4"><rect class="n" x="682" y="4692" width="88" height="23" rx="4"/><text class="t" x="689" y="4707.5">四、教学目标：</text></g>
<g id="c4_1"><rect class="n" x="429" y="4301" width="231" height="108" rx="4"/><text class="t" x="436" y="4315.5">1.认识计数单位“一”和“十”，初步理解个位、<tspan x="436" dy="14.3">十位上的数表示的意义，能够熟练掌握100以</tspan><tspan x="436" dy="14.3">内数，会读写100以内数。掌握100以内的数</tspan><tspan x="436" dy="14.3">是由几个十和几个一组成的，掌握100以内数</tspan><tspan x="436" dy="14.3">的顺序和大小，会比较100以内数的大小，会</tspan><tspan x="436" dy="14.3">用100以内的数表示日常生活中的事物，并会</tspan><tspan x="436" dy="14.3">进行简单的估计和交流。</tspan></text></g>
<g id="c4_2"><rect class="n" x="429" y="4434" width="231" height="66" rx="4"/><text class="t" x="436" y="4448.5">2.熟练计算20以内的退位减法，会计算100以<tspan x="436" dy="14.3">内两位数加、减一位数和整十数，经历与人交</tspan><tspan x="436" dy="14.3">流各自算法的过程，会用加、减法计算知识解</tspan><tspan x="436" dy="14.3">决一些简单的实际问题。</tspan></text></g>
<g id="c4_3"><rect class="n" x="429" y="4527" width="231" height="51" rx="4"/><text class="t" x="436" y="4541.5">3.经历从生活中发现并提出问题、解决问题的<tspan x="436" dy="14.3">过程，体验数学与日常生活的密切联系，感受</tspan><tspan x="436" dy="14.3">数学在日常生活中的作用。</tspan></text></g>
<g id="c4_4"><rect class="n" x="429" y="4604" width="231" height="66" rx="4"/><text class="t" x="436" y="4618.5">4.初步了解分类的方法，会进行简单的分类，<tspan x="436" dy="14.3">感受分类与数据整理的关系;初步认识象形统</tspan><tspan x="436" dy="14.3">计图和统计表，能根据统计图表中的数据提出</tspan><tspan x="436" dy="14.3">并回答简单的数学问题。</tspan></text></g>
<g id="c4_5"><rect class="n" x="429" y="4696" width="231" height="37" rx="4"/><text class="t" x="436" y="4710.5">5.认识人民币单位元、角、分，知道1元=10<tspan x="436" dy="14.3">角，1角=10分，爱护人民币。</tspan></text></g>
<g id="c4_6"><rect class="n" x="429" y="4759" width="231" height="66" rx="4"/><text class="t" x="436" y="4773.5">6.直观认识长方形、正方形、三角形、圆、平<tspan x="436" dy="14.3">行四边形，能用自己的语言描述长方形、正方</tspan><tspan x="436" dy="14.3">形、三角形边的特征，初步感知所学图形之间</tspan><tspan x="436" dy="14.3">的关系。</tspan></text></g>
<g id="c4_7"><rect class="n" x="429" y="4851" width="231" height="37" rx="4"/><text class="t" x="436" y="4865.5">7.会探索给定图形或数的排列中的.简单规律<tspan x="436" dy="14.3">，初步形成发现和欣赏数学美的意识。</tspan></text></g>
<g id="c4_8"><rect class="n" x="429" y="4913" width="231" height="39" rx="4"/><text class="t" x="436" y="4927.5">8.体会学习数学的乐趣，提高学习数学的兴趣<tspan x="436" dy="14.3">，建立学好数学的信心。</tspan></text></g>
<g id="c4_9"><rect class="n" x="453" y="4976" width="207" height="24" rx="4"/><text class="t" x="460" y="4992">9.养成认真作业、书写整洁的良好习惯。</text></g>
<g id="c4_10"><rect class="n" x="429" y="5025" width="231" height="53" rx="4"/><text class="t" x="436" y="5039.5">10.通过实践活动体验数学与日常生活的密切<tspan x="436" dy="14.3">联系，初步形成探索数学问题的兴趣，初步感</tspan><tspan x="436" dy="14.3">受数学思想方法。</tspan></text></g>
<g id="c5"><rect class="n" x="682" y="5340" width="88" height="23" rx="4"/><text class="t" x="689" y="5355.5">五、教学措施：</text></g>
<g id="c5_1"><rect class="n" x="429" y="5102" width="231" height="67" rx="4"/><text class="t" x="436" y="5116.5">1.课前备课必须对学生可能提出的问题及对策<tspan x="436" dy="14.3">进行充分的预设，设计当堂检测作业时必须针</tspan><tspan x="436" dy="14.3">对学习能力不同的学生进行分层次布置并对个</tspan><tspan x="436" dy="14.3">别学困生当面辅导。</tspan></text></g>
<g id="c5_2"><rect class="n" x="429" y="5195" width="231" height="38" rx="4"/><text class="t" x="436" y="5209.5">2.重视课堂基本口算和笔算的训练，培养和逐<tspan x="436" dy="14.3">步提高学生的计算能力。</tspan></text></g>
<g id="c5_3"><rect class="n" x="429" y="5258" width="231" height="38" rx="4"/><text class="t" x="436" y="5272.5">3.结合教学具体的情境，灵活运用教(学)具进<tspan x="436" dy="14.3">行直观教学。</tspan></text></g>
<g id="c5_4"><rect class="n" x="429" y="5321" width="231" height="95" rx="4"/><text class="t" x="436" y="5335.5">4.培养学生良好的数学学习习惯，逐步引导学<tspan x="436" dy="14.3">生学会独立审题，敢于提问，认真倾听别人的</tspan><tspan x="436" dy="14.3">意见，乐于表达自己的想法等内在的学习品质</tspan><tspan x="436" dy="14.3">。联系生活实际和低年级学生的生理、心理特</tspan><tspan x="436" dy="14.3">点，通过喜闻乐见的游戏、童话、故事、卡通</tspan><tspan x="436" dy="14.3">等形式，创设活动情境。</tspan></text></g>
<g id="c5_5"><rect class="n" x="429" y="5441" width="231" height="81" rx="4"/><text class="t" x="436" y="5455.5">5.鼓励和尊重学生的独立思考，引导学生进行<tspan x="436" dy="14.3">讨论和交流。注意教学的开放性，重视培养学</tspan><tspan x="436" dy="14.3">生的创新能力。在数学课堂实践活动中给学生</tspan><tspan x="436" dy="14.3">留下充分的时间与空间，在活动中学习数学知</tspan><tspan x="436" dy="14.3">识。</tspan></text></g>
<g id="c5_6"><rect class="n" x="429" y="5548" width="231" height="37" rx="4"/><text class="t" x="436" y="5562.5">6.根据本班学生的特点和实际情况，创造性地<tspan x="436" dy="14.3">使用教材，设计教学过程。</tspan></text></g>
<g id="c6"><rect class="n" x="682" y="6273" width="88" height="23" rx="4"/><text class="t" x="689" y="6288.5">六、课时安排：</text></g>
<g id="c6_1"><rect class="n" x="542" y="5612" width="118" height="22" rx="4"/><text class="t" x="548" y="5627">1.认识图形(二)(3课时)</text></g>
<g id="c6_2"><rect class="n" x="508" y="5833" width="152" height="22" rx="4"/><text class="t" x="514" y="5848">2.20以内的退位减法(10课时)</text></g>
<g id="c6_2_1"><rect class="n" x="377" y="5661" width="110" height="22" rx="4"/><text class="t" x="383" y="5676">(1)十几减9……1课时</text></g>
<g id="c6_2_2"><rect class="n" x="332" y="5710" width="155" height="22" rx="4"/><text class="t" x="338" y="5725">(2)十几减9的练习课……1课时</text></g>
<g id="c6_2_3"><rect class="n" x="342" y="5759" width="145" height="22" rx="4"/><text class="t" x="348" y="5774">(3)十几减8、7、6……1课时</text></g>
<g id="c6_2_4"><rect class="n" x="279" y="5807" width="208" height="24" rx="4"/><text class="t" x="285" y="5823">(4)十几减9、8、7、6的练习课……1课时</text></g>
<g id="c6_2_5"><rect class="n" x="323" y="5857" width="164" height="22" rx="4"/><text class="t" x="329" y="5872">(5)十几减5、4、3、2……1课时</text></g>
<g id="c6_2_6"><rect class="n" x="327" y="5906" width="160" height="22" rx="4"/><text class="t" x="333" y="5921">(6)十几减几的练习课……1课时</text></g>
<g id="c6_2_7"><rect class="n" x="372" y="5955" width="115" height="22" rx="4"/><text class="t" x="378" y="5970">(7)解决问题……2课时</text></g>
<g id="c6_2_8"><rect class="n" x="361" y="6004" width="126" height="22" rx="4"/><text class="t" x="367" y="6019">(8)整理和复习……2课时</text></g>
<g id="c6_3"><rect class="n" x="550" y="6052" width="110" height="23" rx="4"/><text class="t" x="556" y="6067.5">3.分类与整理(3课时)</text></g>
<g id="c6_4"><rect class="n" x="519" y="6223" width="141" height="24" rx="4"/><text class="t" x="525" y="6239">4.100以内数的认识(9课时)</text></g>
<g id="c6_4_1"><rect class="n" x="296" y="6101" width="201" height="23" rx="4"/><text class="t" x="302" y="6116.5">(1)数100以内的数和数的组成……1课时</text></g>
<g id="c6_4_2"><rect class="n" x="308" y="6150" width="189" height="23" rx="4"/><text class="t" x="314" y="6165.5">(2)100以内数的读法和写法……2课时</text></g>
<g id="c6_4_3"><rect class="n" x="327" y="6199" width="170" height="23" rx="4"/><text class="t" x="333" y="6214.5">(3)数的顺序和比较大小……2课时</text></g>
<g id="c6_4_4"><rect class="n" x="383" y="6248" width="114" height="23" rx="4"/><text class="t" x="389" y="6263.5">(4)解决问题……1课时</text></g>
<g id="c6_4_5"><rect class="n" x="283" y="6297" width="214" height="23" rx="4"/><text class="t" x="289" y="6312.5">(5)整十数加一位数和相应的减法……2课时</text></g>
<g id="c6_4_6"><rect class="n" x="349" y="6346" width="148" height="23" rx="4"/><text class="t" x="355" y="6361.5">(6)摆一摆，想一想……1课时</text></g>
<g id="c6_5"><rect class="n" x="550" y="6444" width="110" height="23" rx="4"/><text class="t" x="556" y="6459.5">5.认识人民币(5课时)</text></g>
<g id="c6_5_1"><rect class="n" x="302" y="6395" width="226" height="23" rx="4"/><text class="t" x="308" y="6410.5">(1)认识人民币，元、角、分的进率……2课时</text></g>
<g id="c6_5_2"><rect class="n" x="325" y="6444" width="203" height="23" rx="4"/><text class="t" x="331" y="6459.5">(2)简单的名数变换和加、减法……2课时</text></g>
<g id="c6_5_3"><rect class="n" x="413" y="6493" width="115" height="23" rx="4"/><text class="t" x="419" y="6508.5">(3)解决问题……1课时</text></g>
<g id="c6_6"><rect class="n" x="472" y="6688" width="188" height="24" rx="4"/><text class="t" x="478" y="6704">6.100以内的加法和减法(一)(12课时)</text></g>
<g id="c6_6_1"><rect class="n" x="281" y="6541" width="169" height="24" rx="4"/><text class="t" x="287" y="6557">(1)整十数加、减整十数……1课时</text></g>
<g id="c6_6_2"><rect class="n" x="269" y="6589.5" width="181" height="24" rx="4"/><text class="t" x="275" y="6605.5">(2)两位数加一位数、整十……3课时</text></g>
<g id="c6_6_3"><rect class="n" x="258" y="6638.5" width="192" height="24" rx="4"/><text class="t" x="264" y="6654.5">(3)两位数减一位数、整十数……3课时</text></g>
<g id="c6_6_4"><rect class="n" x="347" y="6688" width="103" height="24" rx="4"/><text class="t" x="353" y="6704">(4)小括号……1课时</text></g>
<g id="c6_6_5"><rect class="n" x="358" y="6737" width="92" height="24" rx="4"/><text class="t" x="364" y="6753">(5)连加……1课时</text></g>
<g id="c6_6_6"><rect class="n" x="358" y="6785.5" width="92" height="24" rx="4"/><text class="t" x="364" y="6801.5">(6)连减……1课时</text></g>
<g id="c6_6_7"><rect class="n" x="325" y="6834.5" width="125" height="24" rx="4"/><text class="t" x="331" y="6850.5">(7)整理和复习……2课时</text></g>
<g id="c6_7"><rect class="n" x="572" y="6884" width="88" height="24" rx="4"/><text class="t" x="578" y="6900">7.找规律(4课时)</text></g>
<g id="c6_8"><rect class="n" x="572" y="6933" width="88" height="24" rx="4"/><text class="t" x="578" y="6949">8.总复习(4课时)</text></g>

<g id="d1"><rect class="n" x="1690" y="1527" width="65" height="23" rx="4"/><text class="t" x="1696" y="1542.5">教学目标：</text></g>
<g id="d1_1"><rect class="n" x="1777" y="1455" width="231" height="39" rx="4"/><text class="t" x="1784" y="1469.5">1、在具体活动中，让学生体验上下、前后的<tspan x="1784" dy="14.3">位置与顺序，初步培养学生的空间观念。</tspan></text></g>
<g id="d1_2"><rect class="n" x="1777" y="1582" width="231" height="38" rx="4"/><text class="t" x="1784" y="1596.5">2、能确定物体上下、前后的位置与顺序，并<tspan x="1784" dy="14.3">能用自己的语言表达。</tspan></text></g>
<g id="d1_2_1"><rect class="n" x="2029" y="1518" width="231" height="39" rx="4"/><text class="t" x="2036" y="1532.5">经历上下、前后空间位置关系的形成过程，初<tspan x="2036" dy="14.3">步体会认识物体空间位置的方法。</tspan></text></g>
<g id="d1_2_2"><rect class="n" x="2029" y="1582" width="231" height="38" rx="4"/><text class="t" x="2036" y="1596.5">教学重点：能确定物体上下、前后的位置与顺<tspan x="2036" dy="14.3">序，并能用自己的语言表达。</tspan></text></g>
<g id="d1_2_3"><rect class="n" x="2029" y="1645" width="231" height="38" rx="4"/><text class="t" x="2036" y="1659.5">教学难点：培养学生一定的辨别空间方位的能<tspan x="2036" dy="14.3">力。</tspan></text></g>
<g id="d2"><rect class="n" x="1690" y="2222" width="65" height="23" rx="4"/><text class="t" x="1696" y="2237.5">教学过程：</text></g>
<g id="d2_1"><rect class="n" x="1777" y="1731" width="131" height="23" rx="4"/><text class="t" x="1783" y="1746.5">一、创设情境，感知位置</text></g>
<g id="d2_1_1"><rect class="n" x="1929" y="1707" width="232" height="68" rx="4"/><text class="t" x="1936" y="1721.5">师：现在交通便捷，而且有序，大家都很遵守<tspan x="1936" dy="14.3">交通规则，想不想去看一看呢?请看画面。(画</tspan><tspan x="1936" dy="14.3">面一：汽车通过十字路口，行人在等待;画面</tspan><tspan x="1936" dy="14.3">二：汽车停止前进，行人通过斑马线)</tspan></text></g>
<g id="d2_2"><rect class="n" x="1777" y="2179" width="75" height="24" rx="4"/><text class="t" x="1783" y="2195">二、探究新知</text></g>
<g id="d2_2_1"><rect class="n" x="1875" y="2004" width="154" height="24" rx="4"/><text class="t" x="1881" y="2020">(1)教学“上、下”的位置关系。</text></g>
<g id="d2_2_1_1"><rect class="n" x="2050" y="1902" width="205" height="24" rx="4"/><text class="t" x="2056" y="1918">①观察画面，认知“上、下”的位置关系。</text></g>
<g id="d2_2_1_1a"><rect class="n" x="2281" y="1799" width="231" height="39" rx="4"/><text class="t" x="2288" y="1813.5">师：这么有序的交通，你知道是什么在指挥吗<tspan x="2288" dy="14.3">?(红绿灯)</tspan></text></g>
<g id="d2_2_1_1b"><rect class="n" x="2281" y="1862" width="209" height="25" rx="4"/><text class="t" x="2288" y="1878.5">师：对，是红绿灯，它们的作用可真大。</text></g>
<g id="d2_2_1_1c"><rect class="n" x="2281" y="1911" width="231" height="39" rx="4"/><text class="t" x="2288" y="1925.5">师：请小朋友仔细观察，这里的红、黄、绿灯<tspan x="2288" dy="14.3">是怎么摆的呢?与同桌小朋友轻声说一说。</tspan></text></g>
<g id="d2_2_1_1d"><rect class="n" x="2281" y="1974" width="231" height="68" rx="4"/><text class="t" x="2288" y="1988.5">联系实际提问：刚才，同学们把3盏灯的上、<tspan x="2288" dy="14.3">下位置关系说得很清楚，(板书：上下)再看看</tspan><tspan x="2288" dy="14.3">，在我们的教室有这样的上、下位置关系吗?</tspan><tspan x="2288" dy="14.3">我们的身体上呢?</tspan></text></g>
<g id="d2_2_1_2"><rect class="n" x="2050" y="2106" width="56" height="23" rx="4"/><text class="t" x="2056" y="2121.5">②练习。</text></g>
<g id="d2_2_1_2a"><rect class="n" x="2127" y="2067" width="231" height="38" rx="4"/><text class="t" x="2134" y="2081.5">把数学书放在课桌的上面，把文具盒放在数学<tspan x="2134" dy="14.3">书的上面，然后把你的双手压在文具盒上面。</tspan></text></g>
<g id="d2_2_1_2b"><rect class="n" x="2127" y="2131" width="231" height="38" rx="4"/><text class="t" x="2134" y="2145.5">说一说，数学书上面是什么?你的双手下面是<tspan x="2134" dy="14.3">什么?</tspan></text></g>
<g id="d2_2_2"><rect class="n" x="1875" y="2355" width="154" height="24" rx="4"/><text class="t" x="1881" y="2371">(2)教学“前、后”的位置关系。</text></g>
<g id="d2_2_2_1"><rect class="n" x="2050" y="2267" width="153" height="24" rx="4"/><text class="t" x="2056" y="2283">①认知“前、后”的位置关系。</text></g>
<g id="d2_2_2_1a"><rect class="n" x="2225" y="2196" width="232" height="49" rx="4"/><text class="t" x="2232" y="2210.5">下面，请小朋友继续看画面，绿灯亮了，汽车<tspan x="2232" dy="14.3">继续前行，这时，画面上有几辆车，你能不能</tspan><tspan x="2232" dy="14.3">用“前、后”来说说它们又是什么位置关系呢?</tspan></text></g>
<g id="d2_2_2_1b"><rect class="n" x="2225" y="2271" width="183" height="24" rx="4"/><text class="t" x="2232" y="2287">学生交流。(教师适时板书：前、后)</text></g>
<g id="d2_2_2_1c"><rect class="n" x="2225" y="2320" width="232" height="38" rx="4"/><text class="t" x="2232" y="2334.5">师：你喜欢哪辆车，就用“前、后”说说它的位<tspan x="2232" dy="14.3">置。</tspan></text></g>
<g id="d2_2_2_2"><rect class="n" x="2050" y="2444" width="56" height="24" rx="4"/><text class="t" x="2056" y="2460">⑦练习。</text></g>
<g id="d2_2_2_2a"><rect class="n" x="2127" y="2385" width="231" height="50" rx="4"/><text class="t" x="2134" y="2399.5">a、出示十二生肖图，让学生说说谁排在最前<tspan x="2134" dy="14.3">面，谁排在最后面，谁排在谁的前面，谁排在</tspan><tspan x="2134" dy="14.3">谁的后面。</tspan></text></g>
<g id="d2_2_2_2b"><rect class="n" x="2127" y="2461" width="231" height="81" rx="4"/><text class="t" x="2134" y="2475.5">b、教室里的座位也有前、后这样的位置关系<tspan x="2134" dy="14.3">，看看你座位前面是谁，后面是谁。也可以说</tspan><tspan x="2134" dy="14.3">，你在这个同学的在另一个同学的(被念到的</tspan><tspan x="2134" dy="14.3">同学请站起来)。还可以问：从前往后数，他</tspan><tspan x="2134" dy="14.3">的前面有几个人?后面呢?</tspan></text></g>
<g id="d2_3"><rect class="n" x="1777" y="2601" width="131" height="25" rx="4"/><text class="t" x="1783" y="2617.5">三、运用知识，巩固练习</text></g>
<g id="d2_3_1"><rect class="n" x="1929" y="2566" width="232" height="38" rx="4"/><text class="t" x="1936" y="2580.5">(1)师生一起玩“做一做”的游戏。然后同桌两<tspan x="1936" dy="14.3">人出座位玩边说方向位置边拍手的游戏。</tspan></text></g>
<g id="d2_3_2"><rect class="n" x="1929" y="2628" width="113" height="25" rx="4"/><text class="t" x="1936" y="2644.5">(2)做“说反话”游戏。</text></g>
<g id="d2_4"><rect class="n" x="1777" y="2714" width="75" height="25" rx="4"/><text class="t" x="1783" y="2730.5">四、质疑总结</text></g>
<g id="d2_4_1"><rect class="n" x="1875" y="2678" width="231" height="95" rx="4"/><text class="t" x="1882" y="2692.5">今天我们学会了什么?(师指着板书)“上”“下”“<tspan x="1882" dy="14.3">前”“后”在生活中我们会经常碰到，你能向老</tspan><tspan x="1882" dy="14.3">师这样举例子说明吗?学会了“上、下、前、后</tspan><tspan x="1882" dy="14.3">”的位置知识，我们就要懂得在生活中将它们</tspan><tspan x="1882" dy="14.3">进行应用。请小朋友回家后结情境给父母说一</tspan><tspan x="1882" dy="14.3">说生活中的“上、下、前、后”。</tspan></text></g>

<g id="e1"><rect class="n" x="1690" y="2799" width="132" height="24" rx="4"/><text class="t" x="1696" y="2815">教学内容：上下、前后。</text></g>
<g id="e2"><rect class="n" x="1690" y="2928" width="65" height="24" rx="4"/><text class="t" x="1696" y="2944">教学目标：</text></g>
<g id="e2_1"><rect class="n" x="1777" y="2848" width="231" height="38" rx="4"/><text class="t" x="1784" y="2862.5">1、知识目标：能辨认上、下、前、后这些方<tspan x="1784" dy="14.3">位，并用这些方位来描述物体的相对位置。</tspan></text></g>
<g id="e2_2"><rect class="n" x="1777" y="2911" width="231" height="52" rx="4"/><text class="t" x="1784" y="2925.5">2、能力目标：能将自己所学知识运用于生活<tspan x="1784" dy="14.3">实际，初步能在同一场所辨认自己或他人所在</tspan><tspan x="1784" dy="14.3">的位置和方向。</tspan></text></g>
<g id="e2_3"><rect class="n" x="1777" y="2989" width="231" height="52" rx="4"/><text class="t" x="1784" y="3003.5">3、情感、态度与价值观：积极主动地参与位<tspan x="1784" dy="14.3">置与方向的认知过程，体会位置和方向在生活</tspan><tspan x="1784" dy="14.3">中的价值，发展学生积极学习情感体验。</tspan></text></g>
<g id="e3"><rect class="n" x="1690" y="3101" width="99" height="24" rx="4"/><text class="t" x="1696" y="3117">教学重点、难点：</text></g>
<g id="e3_1"><rect class="n" x="1809" y="3066" width="233" height="38" rx="4"/><text class="t" x="1816" y="3080.5">正确辨别上、下、前、后的位置关系，体验其<tspan x="1816" dy="14.3">相对性。</tspan></text></g>
<g id="e3_2"><rect class="n" x="1809" y="3129" width="99" height="25" rx="4"/><text class="t" x="1816" y="3145.5">教具准备：课件。</text></g>
<g id="e4"><rect class="n" x="1690" y="3707" width="65" height="25" rx="4"/><text class="t" x="1696" y="3723.5">教学过程：</text></g>
<g id="e4_1"><rect class="n" x="1777" y="3292" width="131" height="23" rx="4"/><text class="t" x="1783" y="3307.5">一、联系生活，揭示课题</text></g>
<g id="e4_1_1"><rect class="n" x="1929" y="3177" width="170" height="25" rx="4"/><text class="t" x="1936" y="3193.5">师：谁能告诉桌子下面又有什么?</text></g>
<g id="e4_1_2"><rect class="n" x="1929" y="3226" width="232" height="39" rx="4"/><text class="t" x="1936" y="3240.5">大家，在你的课桌上面放的是什么，学生自由<tspan x="1936" dy="14.3">说。</tspan></text></g>
<g id="e4_1_3"><rect class="n" x="1929" y="3290" width="232" height="38" rx="4"/><text class="t" x="1936" y="3304.5">师：谁能帮老师数一数，你前面有几位小朋友<tspan x="1936" dy="14.3">，后面呢?</tspan></text></g>
<g id="e4_1_4"><rect class="n" x="1929" y="3354" width="65" height="24" rx="4"/><text class="t" x="1936" y="3370">学生汇报。</text></g>
<g id="e4_1_5"><rect class="n" x="1929" y="3402" width="132" height="24" rx="4"/><text class="t" x="1936" y="3418">板书课题：上下、前后。</text></g>
<g id="e4_2"><rect class="n" x="1777" y="3740" width="54" height="23" rx="4"/><text class="t" x="1783" y="3755.5">二、新课</text></g>
<g id="e4_2_1"><rect class="n" x="1852" y="3623" width="61" height="25" rx="4"/><text class="t" x="1858" y="3639.5">1、上、下</text></g>
<g id="e4_2_1a"><rect class="n" x="1935" y="3451" width="231" height="53" rx="4"/><text class="t" x="1942" y="3465.5">课件出示主题图，师：这是某个城市的跨江大<tspan x="1942" dy="14.3">桥，你们看，多宏伟啊，谁能把自己从图上看</tspan><tspan x="1942" dy="14.3">到的情景说一说?</tspan></text></g>
<g id="e4_2_1b"><rect class="n" x="1935" y="3527" width="231" height="54" rx="4"/><text class="t" x="1942" y="3541.5">让学生用自己的话对主题图进行描述，并侧重<tspan x="1942" dy="14.3">引导学生用“上”、“下”对物体的位置关系进行</tspan><tspan x="1942" dy="14.3">准确的描述。</tspan></text></g>
<g id="e4_2_1c"><rect class="n" x="1935" y="3606" width="143" height="25" rx="4"/><text class="t" x="1942" y="3622.5">学生独立完成课本的填空。</text></g>
<g id="e4_2_1d"><rect class="n" x="1935" y="3654" width="231" height="40" rx="4"/><text class="t" x="1942" y="3668.5">联系生活实际，学生用“上”、“下”描述身边事<tspan x="1942" dy="14.3">物的位置关系。</tspan></text></g>
<g id="e4_2_1e"><rect class="n" x="1935" y="3717" width="231" height="40" rx="4"/><text class="t" x="1942" y="3731.5">练习：课件出示冰箱图，学生说一说各种物品<tspan x="1942" dy="14.3">的位置。</tspan></text></g>
<g id="e4_2_1f"><rect class="n" x="1935" y="3781" width="154" height="26" rx="4"/><text class="t" x="1942" y="3798">课件出示小树图，学生填空。</text></g>
<g id="e4_2_2"><rect class="n" x="1852" y="3855" width="72" height="24" rx="4"/><text class="t" x="1858" y="3871">2、前、后。</text></g>
<g id="e4_2_2a"><rect class="n" x="1945" y="3830" width="233" height="25" rx="4"/><text class="t" x="1952" y="3846.5">课件出示主题图，学生说一说各位同学的前后</text></g>
<g id="e4_2_2b"><rect class="n" x="1945" y="3879" width="88" height="25" rx="4"/><text class="t" x="1952" y="3895.5">完成“做一做”。</text></g>
<g id="e4_3"><rect class="n" x="1777" y="4003" width="86" height="24" rx="4"/><text class="t" x="1783" y="4019">三、综合练习。</text></g>
<g id="e4_3_1"><rect class="n" x="1885" y="3929" width="95" height="25" rx="4"/><text class="t" x="1891" y="3945.5">1、看图说一说。</text></g>
<g id="e4_3_1a"><rect class="n" x="2000" y="3929" width="233" height="25" rx="4"/><text class="t" x="2007" y="3945.5">课件出示图片，学生说一说各种物品的位置。</text></g>
<g id="e4_3_2"><rect class="n" x="1885" y="3977" width="118" height="25" rx="4"/><text class="t" x="1891" y="3993.5">2、说一说，指一指。</text></g>
<g id="e4_3_2a"><rect class="n" x="2022" y="3977" width="221" height="25" rx="4"/><text class="t" x="2029" y="3993.5">说一说，指一指教室里人和物的位置关系。</text></g>
<g id="e4_3_3"><rect class="n" x="1885" y="4026" width="72" height="25" rx="4"/><text class="t" x="1891" y="4042.5">3、摆一摆。</text></g>
<g id="e4_3_4"><rect class="n" x="1885" y="4075" width="204" height="25" rx="4"/><text class="t" x="1891" y="4091.5">4、看图说一说，回答小动物们的问题。</text></g>
<g id="e4_4"><rect class="n" x="1777" y="4124" width="75" height="25" rx="4"/><text class="t" x="1783" y="4140.5">四、全课小结</text></g>
<g id="e4_4_1"><rect class="n" x="1875" y="4124" width="114" height="25" rx="4"/><text class="t" x="1881" y="4140.5">今天学习了什么内容?</text></g>

<g id="f1"><rect class="n" x="1690" y="4172" width="231" height="39" rx="4"/><text class="t" x="1696" y="4186.5">★ 2021最新人教版一年级数学下册《上下前<tspan x="1696" dy="14.3">后》教案</tspan></text></g>
<g id="f2"><rect class="n" x="1690" y="4236" width="220" height="24" rx="4"/><text class="t" x="1696" y="4252">★ 位置上下前后一年级数学上整册教案设计</text></g>
<g id="f3"><rect class="n" x="1690" y="4285" width="183" height="25" rx="4"/><text class="t" x="1696" y="4301.5">★ 一年级数学《上下》教案5篇范文</text></g>
<g id="f4"><rect class="n" x="1690" y="4335" width="187" height="25" rx="4"/><text class="t" x="1696" y="4351.5">★ 一年级上册数学位置教案最新范文</text></g>
<g id="f5"><rect class="n" x="1690" y="4383" width="220" height="25" rx="4"/><text class="t" x="1696" y="4399.5">★ 北师大一年级数学上册上下教案最新范文</text></g>
<g id="f6"><rect class="n" x="1690" y="4433" width="187" height="24" rx="4"/><text class="t" x="1696" y="4449">★ 小学一年级数学位置教案最新范文</text></g>
<g id="f7"><rect class="n" x="1690" y="4481" width="202" height="24" rx="4"/><text class="t" x="1696" y="4497">★ 人教版一年级数学位置教案2021模板</text></g>
<g id="f8"><rect class="n" x="1690" y="4530" width="187" height="25" rx="4"/><text class="t" x="1696" y="4546.5">★ 一年级数学课堂教学教案模板范文</text></g>
<g id="f9"><rect class="n" x="1690" y="4579" width="209" height="24" rx="4"/><text class="t" x="1696" y="4595">★ 一年级数学上册全册教案详案最新模板</text></g>
<g id="f10"><rect class="n" x="1690" y="4628" width="154" height="24" rx="4"/><text class="t" x="1696" y="4644">★ 一年级数学教案模板最新版</text></g>
</g>
</svg>
